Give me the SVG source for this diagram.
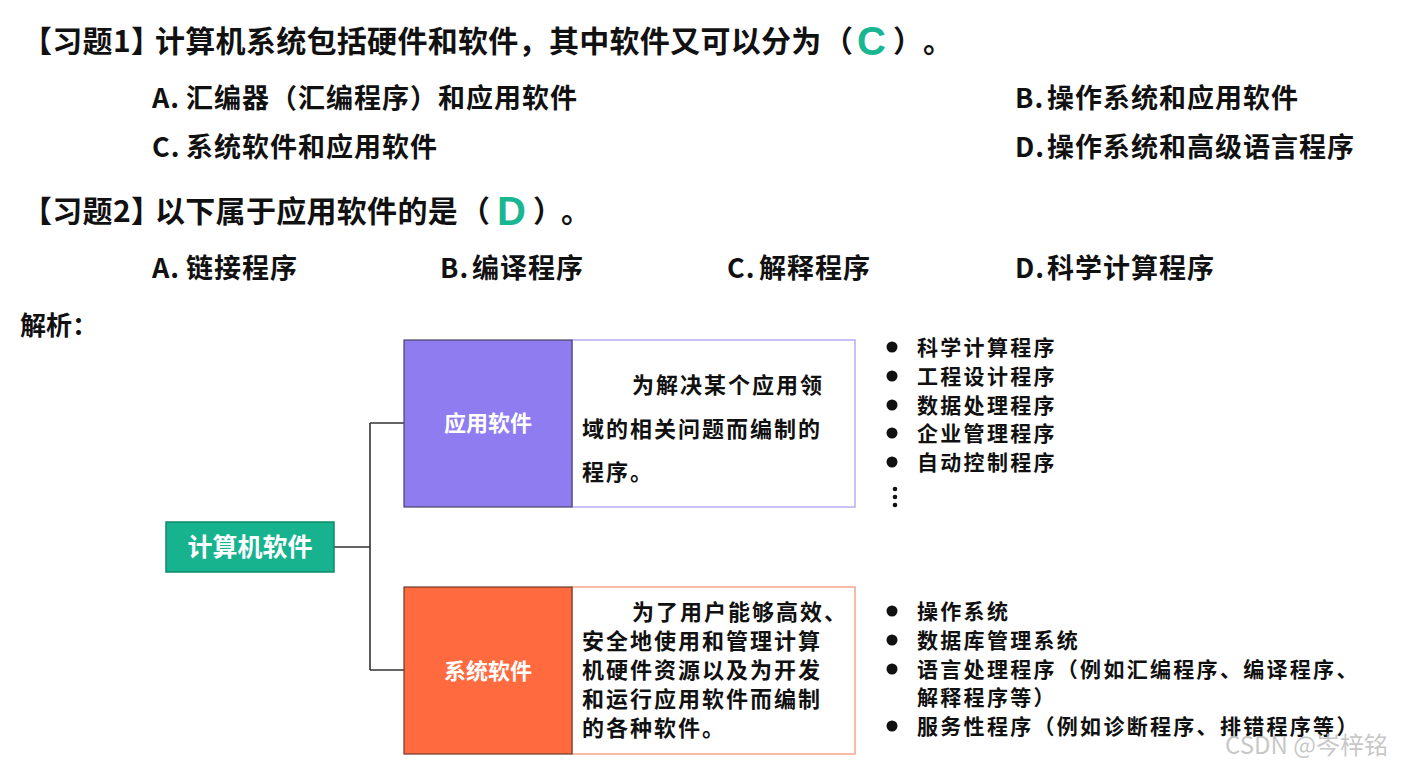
<svg xmlns="http://www.w3.org/2000/svg" width="1408" height="769" viewBox="0 0 1408 769">
<style>
text{font-family:"Noto Sans CJK SC","Liberation Sans",sans-serif;font-weight:bold;fill:#111}
.t{font-size:30px;letter-spacing:0.3px}
.o{font-size:27px;letter-spacing:1px}
.ans{font-family:"Liberation Sans","Noto Sans CJK SC",sans-serif;font-size:40px;font-weight:900;fill:#19b692}
.d{font-size:22px;letter-spacing:2px}
.b{font-size:21px;letter-spacing:2.3px}
.w{font-size:24px;fill:#fff;text-anchor:middle;font-weight:bold}
.conn{stroke:#333;stroke-width:1.6;fill:none}
.dot{fill:#111}
</style>
<rect width="1408" height="769" fill="#fff"/>
<g id="q1">
<text class="t" x="22" y="52">【习题1】</text>
<text class="t" x="155" y="52">计算机系统包括硬件和软件，其中软件又可以分为</text>
<text class="t" x="823" y="52">（</text>
<text class="ans" x="857" y="55">C</text>
<text class="t" x="893" y="52">）</text>
<text class="t" x="923" y="52">。</text>
<text class="o" x="152" y="108">A.</text><text class="o" x="186" y="108">汇编器（汇编程序）和应用软件</text>
<text class="o" x="1015" y="108">B.</text><text class="o" x="1047" y="108">操作系统和应用软件</text>
<text class="o" x="152" y="157">C.</text><text class="o" x="186" y="157">系统软件和应用软件</text>
<text class="o" x="1015" y="157">D.</text><text class="o" x="1047" y="157">操作系统和高级语言程序</text>
</g>
<g id="q2">
<text class="t" x="22" y="222">【习题2】</text>
<text class="t" x="155" y="222">以下属于应用软件的是</text>
<text class="t" x="460" y="222">（</text>
<text class="ans" x="497" y="225">D</text>
<text class="t" x="533" y="222">）</text>
<text class="t" x="561" y="222">。</text>
<text class="o" x="152" y="278">A.</text><text class="o" x="186" y="278">链接程序</text>
<text class="o" x="440" y="278">B.</text><text class="o" x="472" y="278">编译程序</text>
<text class="o" x="727" y="278">C.</text><text class="o" x="759" y="278">解释程序</text>
<text class="o" x="1015" y="278">D.</text><text class="o" x="1047" y="278">科学计算程序</text>
</g>
<text x="20" y="335" style="font-size:26px">解析：</text>
<g id="connectors">
<path class="conn" d="M334 547 H370 M370 423 V670 M370 423 H404 M370 670 H404"/>
</g>
<g id="root">
<rect x="166" y="522" width="168" height="50" fill="#17b38f" stroke="#0f8a6c" stroke-width="1.5"/>
<text class="w" x="250" y="556" style="font-size:25px">计算机软件</text>
</g>
<g id="app">
<rect x="572" y="340" width="283" height="167" fill="#fff" stroke="#b8acf6" stroke-width="1.5"/>
<rect x="404" y="340" width="168" height="167" fill="#8e7cf0" stroke="#4a4466" stroke-width="1.2"/>
<text class="w" x="488" y="431" style="font-size:22px">应用软件</text>
<text class="d" x="632" y="393">为解决某个应用领</text>
<text class="d" x="582" y="437">域的相关问题而编制的</text>
<text class="d" x="582" y="480">程序。</text>
</g>
<g id="sys">
<rect x="572" y="587" width="283" height="167" fill="#fff" stroke="#f6a58a" stroke-width="1.5"/>
<rect x="404" y="587" width="168" height="167" fill="#ff6a3f" stroke="#6a3a2c" stroke-width="1.2"/>
<text class="w" x="488" y="679" style="font-size:22px">系统软件</text>
<text class="d" x="632" y="620">为了用户能够高效、</text>
<text class="d" x="582" y="649">安全地使用和管理计算</text>
<text class="d" x="582" y="678">机硬件资源以及为开发</text>
<text class="d" x="582" y="707">和运行应用软件而编制</text>
<text class="d" x="582" y="736">的各种软件。</text>
</g>
<g id="app-list">
<circle class="dot" cx="892" cy="347" r="5.5"/>
<circle class="dot" cx="892" cy="376" r="5.5"/>
<circle class="dot" cx="892" cy="405" r="5.5"/>
<circle class="dot" cx="892" cy="433" r="5.5"/>
<circle class="dot" cx="892" cy="462" r="5.5"/>
<text class="b" x="917" y="355">科学计算程序</text>
<text class="b" x="917" y="384">工程设计程序</text>
<text class="b" x="917" y="413">数据处理程序</text>
<text class="b" x="917" y="441">企业管理程序</text>
<text class="b" x="917" y="470">自动控制程序</text>
<circle class="dot" cx="895" cy="489" r="2.3"/>
<circle class="dot" cx="895" cy="497" r="2.3"/>
<circle class="dot" cx="895" cy="505" r="2.3"/>
</g>
<g id="sys-list">
<circle class="dot" cx="892" cy="611" r="5.5"/>
<circle class="dot" cx="892" cy="640" r="5.5"/>
<circle class="dot" cx="892" cy="669" r="5.5"/>
<circle class="dot" cx="892" cy="726" r="5.5"/>
<text class="b" x="917" y="619">操作系统</text>
<text class="b" x="917" y="648">数据库管理系统</text>
<text class="b" x="917" y="677">语言处理程序（例如汇编程序、编译程序、</text>
<text class="b" x="917" y="705">解释程序等）</text>
<text class="b" x="917" y="734">服务性程序（例如诊断程序、排错程序等）</text>
</g>
<text x="1225" y="754" style="font-family:'Noto Sans CJK SC','Liberation Sans',sans-serif;font-weight:normal;font-size:24px;fill:#bdbdbd;fill-opacity:0.85">CSDN @岑梓铭</text>
</svg>
